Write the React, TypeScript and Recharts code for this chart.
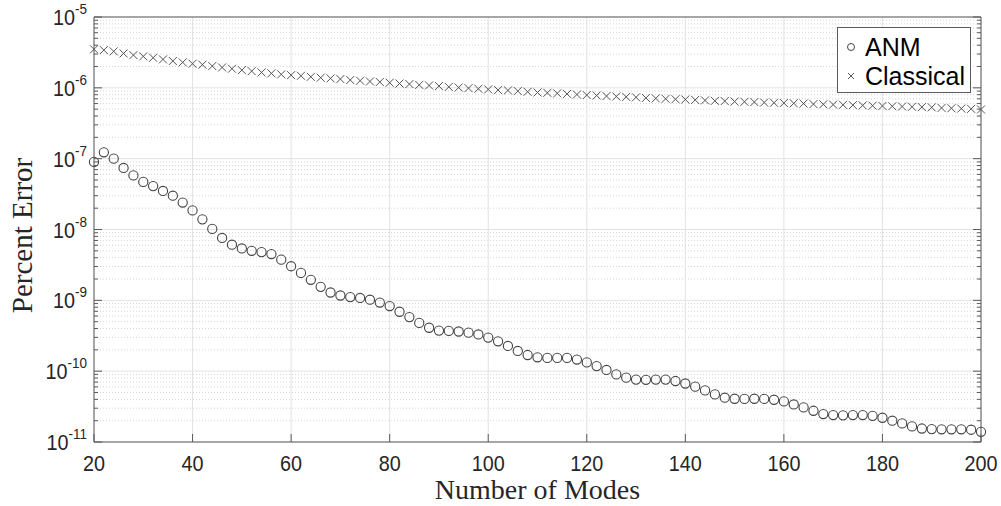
import { ScatterChart, Scatter, XAxis, YAxis, CartesianGrid, Legend, Label } from 'recharts';

// number of modes, one point every 2 modes
const modes = [
  20, 22, 24, 26, 28, 30, 32, 34, 36, 38, 40, 42, 44, 46, 48, 50, 52, 54, 56, 58,
  60, 62, 64, 66, 68, 70, 72, 74, 76, 78, 80, 82, 84, 86, 88, 90, 92, 94, 96, 98,
  100, 102, 104, 106, 108, 110, 112, 114, 116, 118, 120, 122, 124, 126, 128, 130, 132, 134, 136, 138,
  140, 142, 144, 146, 148, 150, 152, 154, 156, 158, 160, 162, 164, 166, 168, 170, 172, 174, 176, 178,
  180, 182, 184, 186, 188, 190, 192, 194, 196, 198, 200,
];

const anmError = [
  9.0e-8, 1.23e-7, 1.0e-7, 7.4e-8, 5.8e-8, 4.7e-8, 4.1e-8, 3.5e-8, 3.0e-8, 2.4e-8,
  1.86e-8, 1.39e-8, 1.02e-8, 7.6e-9, 6.1e-9, 5.4e-9, 5.0e-9, 4.8e-9, 4.5e-9, 3.75e-9,
  3.03e-9, 2.44e-9, 1.95e-9, 1.55e-9, 1.29e-9, 1.17e-9, 1.11e-9, 1.08e-9, 1.02e-9, 9.3e-10,
  8.3e-10, 6.9e-10, 5.8e-10, 4.8e-10, 4.1e-10, 3.74e-10, 3.7e-10, 3.63e-10, 3.5e-10, 3.3e-10,
  2.98e-10, 2.64e-10, 2.27e-10, 1.93e-10, 1.69e-10, 1.57e-10, 1.54e-10, 1.54e-10, 1.54e-10, 1.46e-10,
  1.33e-10, 1.18e-10, 1.04e-10, 9.0e-11, 8.1e-11, 7.6e-11, 7.55e-11, 7.6e-11, 7.6e-11, 7.26e-11,
  6.7e-11, 6.05e-11, 5.35e-11, 4.7e-11, 4.22e-11, 4.08e-11, 4.06e-11, 4.08e-11, 4.06e-11, 3.95e-11,
  3.74e-11, 3.39e-11, 3.08e-11, 2.76e-11, 2.48e-11, 2.4e-11, 2.38e-11, 2.4e-11, 2.4e-11, 2.34e-11,
  2.2e-11, 2.0e-11, 1.83e-11, 1.66e-11, 1.55e-11, 1.52e-11, 1.51e-11, 1.51e-11, 1.51e-11, 1.49e-11,
  1.39e-11,
];

const classicalError = [
  3.5e-6, 3.41e-6, 3.27e-6, 3.06e-6, 2.9e-6, 2.78e-6, 2.66e-6, 2.52e-6, 2.39e-6, 2.29e-6,
  2.19e-6, 2.12e-6, 2.03e-6, 1.94e-6, 1.86e-6, 1.78e-6, 1.72e-6, 1.65e-6, 1.6e-6, 1.55e-6,
  1.51e-6, 1.48e-6, 1.43e-6, 1.39e-6, 1.36e-6, 1.33e-6, 1.29e-6, 1.26e-6, 1.23e-6, 1.21e-6,
  1.18e-6, 1.15e-6, 1.13e-6, 1.1e-6, 1.08e-6, 1.06e-6, 1.03e-6, 1.01e-6, 9.9e-7, 9.7e-7,
  9.5e-7, 9.3e-7, 9.2e-7, 9.0e-7, 8.8e-7, 8.6e-7, 8.5e-7, 8.35e-7, 8.2e-7, 8.05e-7,
  7.9e-7, 7.8e-7, 7.65e-7, 7.55e-7, 7.45e-7, 7.35e-7, 7.2e-7, 7.1e-7, 7.0e-7, 6.9e-7,
  6.85e-7, 6.75e-7, 6.65e-7, 6.55e-7, 6.5e-7, 6.4e-7, 6.35e-7, 6.3e-7, 6.2e-7, 6.15e-7,
  6.1e-7, 6.05e-7, 6.0e-7, 5.9e-7, 5.85e-7, 5.8e-7, 5.75e-7, 5.7e-7, 5.65e-7, 5.6e-7,
  5.55e-7, 5.5e-7, 5.45e-7, 5.4e-7, 5.35e-7, 5.3e-7, 5.2e-7, 5.15e-7, 5.1e-7, 5.05e-7,
  4.95e-7,
];

const xTicks = [20, 40, 60, 80, 100, 120, 140, 160, 180, 200];
const yDecades = [1e-11, 1e-10, 1e-9, 1e-8, 1e-7, 1e-6, 1e-5];
const minorSteps = [2, 3, 4, 5, 6, 7, 8, 9];

const yMinor = yDecades.slice(0, -1).flatMap((d) => minorSteps.map((k) => k * d));
const yAllTicks = [...yDecades, ...yMinor];

const anmData = modes.map((m, i) => ({ mode: m, err: anmError[i] }));
const classicalData = modes.map((m, i) => ({ mode: m, err: classicalError[i] }));

const AXIS = '#5a5a5a';
const TEXT = '#262626';
const SANS = '"Liberation Sans", Arial, sans-serif';
const SERIF = '"Liberation Serif", "Times New Roman", serif';

const isDecade = (v: number) => {
  const l = Math.log10(v);
  return Math.abs(l - Math.round(l)) < 1e-6;
};

function LeftTick({ x, y, payload }: any) {
  const v = payload.value as number;
  const major = isDecade(v);
  return (
    <g>
      <line x1={x} x2={x + (major ? 8 : 4)} y1={y} y2={y} stroke={AXIS} />
      {major && (
        <text
          transform={`translate(${x - 7},${y + 8}) scale(0.9,1)`}
          textAnchor="end"
          fontFamily={SANS}
          fontSize={22}
          fill={TEXT}
        >
          10
          <tspan dy={-11} fontSize={15}>
            {String(Math.round(Math.log10(v)))}
          </tspan>
        </text>
      )}
    </g>
  );
}

function RightTick({ x, y, payload }: any) {
  const major = isDecade(payload.value);
  return <line x1={x} x2={x - (major ? 8 : 4)} y1={y} y2={y} stroke={AXIS} />;
}

function BottomTick({ x, y, payload }: any) {
  return (
    <g>
      <line x1={x} x2={x} y1={y} y2={y - 8} stroke={AXIS} />
      <text
        transform={`translate(${x},${y + 29}) scale(0.9,1)`}
        textAnchor="middle"
        fontFamily={SANS}
        fontSize={22}
        fill={TEXT}
      >
        {payload.value}
      </text>
    </g>
  );
}

function TopTick({ x, y }: any) {
  return <line x1={x} x2={x} y1={y} y2={y + 8} stroke={AXIS} />;
}

const CircleMark = (p: any) => (
  <circle cx={p.cx} cy={p.cy} r={4.6} fill="none" stroke="#444" strokeWidth={1.1} />
);

const CrossMark = (p: any) => (
  <path
    d={`M${p.cx - 4},${p.cy - 4}L${p.cx + 4},${p.cy + 4}M${p.cx - 4},${p.cy + 4}L${p.cx + 4},${p.cy - 4}`}
    stroke="#555"
    strokeWidth={1}
  />
);

function LegendBox() {
  return (
    <div
      style={{
        width: 134,
        height: 66,
        border: `1px solid ${AXIS}`,
        background: '#fff',
        fontFamily: SANS,
        fontSize: 25,
        lineHeight: '28px',
        color: '#000',
        boxSizing: 'border-box',
      }}
    >
      <div style={{ display: 'flex', alignItems: 'center', height: 31, marginTop: 3 }}>
        <svg width={27} height={31}>
          <circle cx={13} cy={16} r={3.5} fill="none" stroke="#444" />
        </svg>
        <span>ANM</span>
      </div>
      <div style={{ display: 'flex', alignItems: 'center', height: 28 }}>
        <svg width={27} height={28}>
          <path d="M10,11L16,17M10,17L16,11" stroke="#555" />
        </svg>
        <span>Classical</span>
      </div>
    </div>
  );
}

const XTitle = ({ viewBox }: any) => (
  <text
    x={viewBox.x + viewBox.width / 2}
    y={viewBox.y + 57}
    textAnchor="middle"
    fontFamily={SERIF}
    fontSize={28}
    fill={TEXT}
  >
    Number of Modes
  </text>
);

const YTitle = ({ viewBox }: any) => (
  <text
    transform={`translate(22,${viewBox.y + viewBox.height / 2 + 6}) rotate(-90)`}
    textAnchor="middle"
    dominantBaseline="central"
    fontFamily={SERIF}
    fontSize={29}
    fill={TEXT}
  >
    Percent Error
  </text>
);

export default function App() {
  return (
    <div style={{ width: 1001, height: 506 }}>
      <style>{'body{margin:0}'}</style>
      <ScatterChart width={1001} height={506} margin={{ top: 16, right: 19, left: 0, bottom: 0 }}>
        <CartesianGrid
          xAxisId="b"
          yAxisId="l"
          horizontalValues={yMinor}
          vertical={false}
          stroke="#d6d6d6"
          strokeDasharray="1 2"
        />
        <CartesianGrid
          xAxisId="b"
          yAxisId="l"
          horizontalValues={yDecades}
          verticalValues={xTicks}
          stroke="#e2e2e2"
        />
        <XAxis
          xAxisId="b"
          type="number"
          dataKey="mode"
          domain={[20, 200]}
          ticks={xTicks}
          interval={0}
          height={64}
          tickSize={0}
          tickMargin={0}
          tickLine={false}
          axisLine={{ stroke: AXIS }}
          tick={BottomTick}
        >
          <Label content={XTitle} />
        </XAxis>
        <XAxis
          xAxisId="t"
          orientation="top"
          type="number"
          domain={[20, 200]}
          ticks={xTicks}
          interval={0}
          height={1}
          tickSize={0}
          tickMargin={0}
          tickLine={false}
          axisLine={{ stroke: AXIS }}
          tick={TopTick}
          allowDataOverflow
        />
        <YAxis
          yAxisId="l"
          type="number"
          dataKey="err"
          scale="log"
          domain={[1e-11, 1e-5]}
          ticks={yAllTicks}
          interval={0}
          width={94}
          tickSize={0}
          tickMargin={0}
          tickLine={false}
          axisLine={{ stroke: AXIS }}
          tick={LeftTick}
        >
          <Label content={YTitle} />
        </YAxis>
        <YAxis
          yAxisId="r"
          orientation="right"
          type="number"
          scale="log"
          domain={[1e-11, 1e-5]}
          ticks={yAllTicks}
          interval={0}
          width={1}
          tickSize={0}
          tickMargin={0}
          tickLine={false}
          axisLine={{ stroke: AXIS }}
          tick={RightTick}
          allowDataOverflow
        />
        <Scatter
          name="ANM"
          xAxisId="b"
          yAxisId="l"
          data={anmData}
          shape={CircleMark}
          isAnimationActive={false}
        />
        <Scatter
          name="Classical"
          xAxisId="b"
          yAxisId="l"
          data={classicalData}
          shape={CrossMark}
          isAnimationActive={false}
        />
        <Legend
          layout="vertical"
          align="center"
          verticalAlign="middle"
          content={LegendBox}
          wrapperStyle={{ position: 'absolute', left: 837, top: 27, width: 134, height: 66 }}
        />
      </ScatterChart>
    </div>
  );
}
